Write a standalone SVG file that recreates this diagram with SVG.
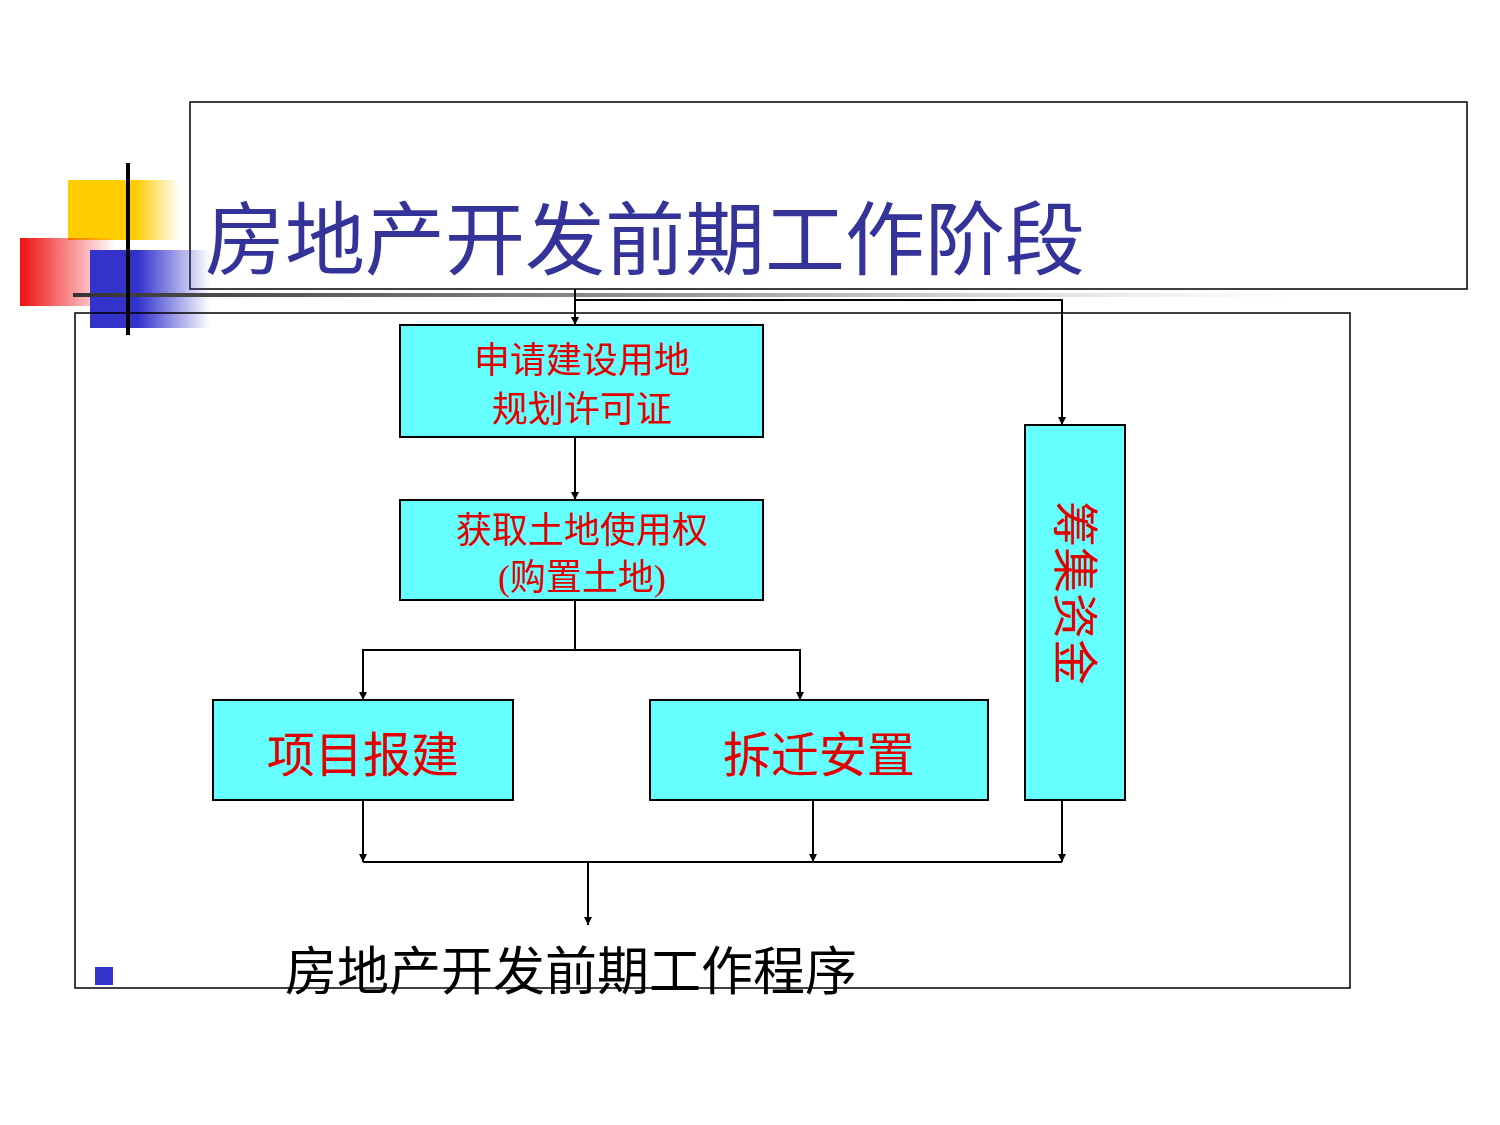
<svg xmlns="http://www.w3.org/2000/svg" width="1500" height="1125" viewBox="0 0 1500 1125">
<defs>
<linearGradient id="gy" x1="0" x2="1"><stop offset="0" stop-color="#FFCC00"/><stop offset="0.6" stop-color="#FFCC00"/><stop offset="1" stop-color="#FFCC00" stop-opacity="0"/></linearGradient>
<linearGradient id="gr" x1="0" x2="1"><stop offset="0" stop-color="#EE1111"/><stop offset="1" stop-color="#EE1111" stop-opacity="0"/></linearGradient>
<linearGradient id="gb" x1="0" x2="1"><stop offset="0" stop-color="#3333CC"/><stop offset="0.4" stop-color="#3333CC"/><stop offset="1" stop-color="#3333CC" stop-opacity="0"/></linearGradient>
<linearGradient id="gl" x1="0" x2="1"><stop offset="0" stop-color="#333"/><stop offset="0.5" stop-color="#999"/><stop offset="1" stop-color="#ccc" stop-opacity="0"/></linearGradient>
<marker id="ar" viewBox="0 0 10 10" refX="10" refY="5" markerWidth="8" markerHeight="8" orient="auto" markerUnits="userSpaceOnUse"><path d="M0,0L10,5L0,10z" fill="#000"/></marker>
<style>
.box{fill:#66FFFF;stroke:#000;stroke-width:2}
.t{font-family:"Liberation Serif","Noto Sans CJK SC",serif;fill:#E00000;text-anchor:middle}
.c{stroke:#000;stroke-width:2;fill:none}
</style>
</defs>
<rect x="190" y="102" width="1277" height="187" fill="#fff" stroke="#000" stroke-width="1.5"/>
<rect x="68" y="180" width="112" height="60" fill="url(#gy)"/>
<rect x="20" y="238" width="95" height="68" fill="url(#gr)"/>
<rect x="90" y="250" width="120" height="78" fill="url(#gb)"/>
<rect x="73" y="293" width="1230" height="4" fill="url(#gl)"/>
<line x1="128" y1="163" x2="128" y2="335" stroke="#000" stroke-width="4"/>
<text x="205" y="268" font-family="Liberation Serif,'Noto Sans CJK SC',serif" font-size="80" fill="#333399">房地产开发前期工作阶段</text>
<rect x="75" y="313" width="1275" height="675" fill="none" stroke="#000" stroke-width="1.5"/>
<g id="connectors">
<path class="c" d="M575,289V325" marker-end="url(#ar)"/>
<path class="c" d="M575,300H1062V425" marker-end="url(#ar)"/>
<path class="c" d="M575,437V500" marker-end="url(#ar)"/>
<path class="c" d="M575,600V650"/>
<path class="c" d="M363,700V650H800V700"/>
<path class="c" d="M363,650V700" marker-end="url(#ar)"/>
<path class="c" d="M800,650V700" marker-end="url(#ar)"/>
<path class="c" d="M363,800V862" marker-end="url(#ar)"/>
<path class="c" d="M813,800V862" marker-end="url(#ar)"/>
<path class="c" d="M1062,800V862" marker-end="url(#ar)"/>
<path class="c" d="M363,862H1062"/>
<path class="c" d="M588,862V925" marker-end="url(#ar)"/>
</g>
<g id="nA"><rect class="box" x="400" y="325" width="363" height="112"/>
<text class="t" x="582" y="373" font-size="36">申请建设用地</text><text class="t" x="582" y="422" font-size="36">规划许可证</text></g>
<g id="nB"><rect class="box" x="400" y="500" width="363" height="100"/>
<text class="t" x="582" y="543" font-size="36">获取土地使用权</text><text class="t" x="582" y="590" font-size="36">(购置土地)</text></g>
<g id="nC"><rect class="box" x="213" y="700" width="300" height="100"/><text class="t" x="363" y="772" font-size="48">项目报建</text></g>
<g id="nD"><rect class="box" x="650" y="700" width="338" height="100"/><text class="t" x="819" y="772" font-size="48">拆迁安置</text></g>
<g id="nE"><rect class="box" x="1025" y="425" width="100" height="375"/>
<text class="t" transform="translate(1075,593) rotate(90)" x="0" y="16" font-size="46">筹集资金</text></g>
<rect x="95" y="967" width="18" height="18" fill="#3333CC"/>
<text x="285" y="990" font-family="Liberation Serif,'Noto Sans CJK SC',serif" font-size="52" fill="#000">房地产开发前期工作程序</text>
</svg>
